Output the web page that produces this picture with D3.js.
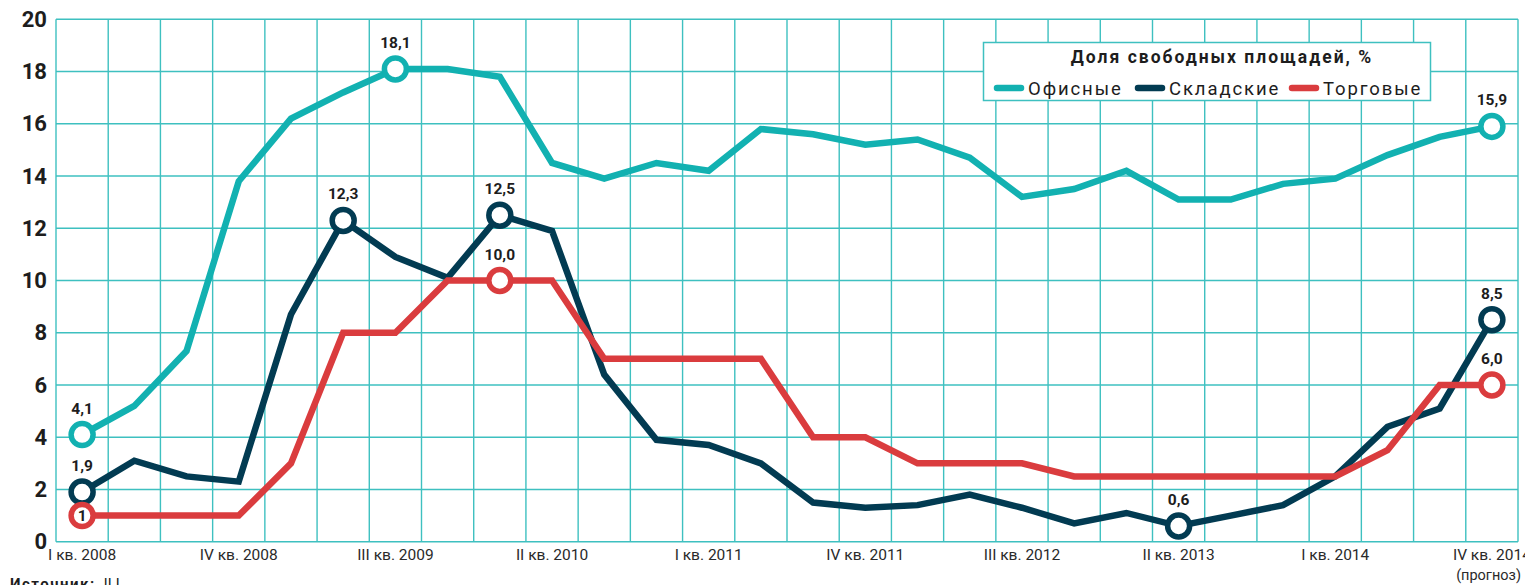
<!DOCTYPE html>
<html>
<head>
<meta charset="utf-8">
<script src="https://cdn.jsdelivr.net/npm/d3@7"></script>
<style>
  body { margin: 0; background: #fff; }
  svg { display: block; font-family: Roboto, "Open Sans", sans-serif; }
</style>
</head>
<body>
<svg id="chart" width="1525" height="585"></svg>
<script>
// quarters from I кв. 2008 to IV кв. 2014
const quarters = [];
const romans = ["I", "II", "III", "IV"];
for (let yr = 2008; yr <= 2014; yr++) {
  romans.forEach(r => quarters.push(r + " кв. " + yr));
}

const office = [4.1, 5.2, 7.3, 13.8, 16.2, 17.2, 18.1, 18.1, 17.8, 14.5, 13.9, 14.5, 14.2, 15.8,
  15.6, 15.2, 15.4, 14.7, 13.2, 13.5, 14.2, 13.1, 13.1, 13.7, 13.9, 14.8, 15.5, 15.9];
const warehouse = [1.9, 3.1, 2.5, 2.3, 8.7, 12.3, 10.9, 10.1, 12.5, 11.9, 6.4, 3.9, 3.7, 3.0,
  1.5, 1.3, 1.4, 1.8, 1.3, 0.7, 1.1, 0.6, 1.0, 1.4, 2.5, 4.4, 5.1, 8.5];
const retail = [1, 1, 1, 1, 3.0, 8, 8, 10, 10, 10, 7, 7, 7, 7,
  4, 4, 3, 3, 3, 2.5, 2.5, 2.5, 2.5, 2.5, 2.5, 3.5, 6, 6];

const yTicks = [0, 2, 4, 6, 8, 10, 12, 14, 16, 18, 20];

// highlighted points: [series, quarter index, label]
const callouts = [
  ["office", 0, "4,1"], ["office", 6, "18,1"], ["office", 27, "15,9"],
  ["warehouse", 0, "1,9"], ["warehouse", 5, "12,3"], ["warehouse", 8, "12,5"],
  ["warehouse", 21, "0,6"], ["warehouse", 27, "8,5"],
  ["retail", 8, "10,0"], ["retail", 27, "6,0"]
];

const colors = { office: "#12b1b1", warehouse: "#023b52", retail: "#da3c3e" };
const names = { office: "Офисные", warehouse: "Складские", retail: "Торговые" };
const seriesData = { office: office, warehouse: warehouse, retail: retail };
const gridColor = "#3ec0c0";

const svg = d3.select("#chart");

const x = d3.scaleBand().domain(d3.range(quarters.length)).range([56, 1518]);
const y = d3.scaleLinear().domain([0, 20]).range([541.7, 19.3]);
const cx = i => x(i) + x.bandwidth() / 2;

// grid
const grid = svg.append("g");
grid.selectAll(".vg")
  .data(d3.range(quarters.length + 1))
  .enter().append("line")
  .attr("x1", i => 56 + i * x.bandwidth())
  .attr("x2", i => 56 + i * x.bandwidth())
  .attr("y1", y(20)).attr("y2", y(0))
  .style("stroke", gridColor).style("stroke-width", 1.4);
grid.selectAll(".hg")
  .data(yTicks)
  .enter().append("line")
  .attr("x1", 56).attr("x2", 1518)
  .attr("y1", d => y(d)).attr("y2", d => y(d))
  .style("stroke", gridColor).style("stroke-width", 1.4);

// y axis
const yAxis = svg.append("g")
  .attr("transform", "translate(56,0)")
  .call(d3.axisLeft(y).tickValues(yTicks).tickSize(0).tickPadding(9));
yAxis.select(".domain").remove();
yAxis.selectAll("text")
  .style("font-size", "22px").style("font-weight", "bold")
  .style("fill", "#1d1d1d").style("font-family", "Roboto, sans-serif");

// x axis
const xAxis = svg.append("g")
  .attr("transform", "translate(0," + y(0) + ")")
  .call(d3.axisBottom(x)
    .tickValues(d3.range(0, quarters.length, 3))
    .tickFormat(i => quarters[i])
    .tickSize(0).tickPadding(7));
xAxis.select(".domain").remove();
xAxis.selectAll("text")
  .style("font-size", "15.5px").style("fill", "#2a2a2a")
  .style("font-family", "Roboto, sans-serif");

svg.append("text")
  .attr("x", 1521).attr("y", 580)
  .attr("text-anchor", "end")
  .style("font-size", "14.5px").style("fill", "#2a2a2a")
  .text("(прогноз)");

// lines
const line = d3.line().x((d, i) => cx(i)).y(d => y(d));
["office", "warehouse", "retail"].forEach(key => {
  svg.append("path")
    .datum(seriesData[key])
    .attr("d", line)
    .style("fill", "none")
    .style("stroke", colors[key])
    .style("stroke-width", 6.5)
    .style("stroke-linejoin", "miter");
});

// circles and labels
callouts.forEach(c => {
  const v = seriesData[c[0]][c[1]];
  svg.append("circle")
    .attr("cx", cx(c[1])).attr("cy", y(v)).attr("r", 11)
    .style("fill", "#fff").style("stroke", colors[c[0]]).style("stroke-width", 5.5);
  svg.append("text")
    .attr("x", cx(c[1])).attr("y", y(v) - 21)
    .attr("text-anchor", "middle")
    .style("font-size", "15.5px").style("font-weight", "bold").style("fill", "#1d1d1d")
    .text(c[2]);
});
// first retail point has its value inside the circle
svg.append("circle")
  .attr("cx", cx(0)).attr("cy", y(retail[0])).attr("r", 11)
  .style("fill", "#fff").style("stroke", colors.retail).style("stroke-width", 5.5);
svg.append("text")
  .attr("x", cx(0)).attr("y", y(retail[0]) + 5.5)
  .attr("text-anchor", "middle")
  .style("font-size", "15.5px").style("font-weight", "bold").style("fill", "#1d1d1d")
  .text("1");

// legend
const legend = svg.append("g");
legend.append("rect")
  .attr("x", 983.5).attr("y", 42.5).attr("width", 447).attr("height", 58)
  .style("fill", "#fff").style("stroke", gridColor).style("stroke-width", 1.5);
legend.append("text")
  .attr("x", 1222).attr("y", 63)
  .attr("text-anchor", "middle")
  .style("font-size", "17.5px").style("font-weight", "bold")
  .style("letter-spacing", "2px").style("fill", "#1d1d1d")
  .text("Доля свободных площадей, %");
const items = [["office", 994], ["warehouse", 1135], ["retail", 1289]];
items.forEach(it => {
  legend.append("line")
    .attr("x1", it[1] + 3).attr("x2", it[1] + 27).attr("y1", 88).attr("y2", 88)
    .style("stroke", colors[it[0]]).style("stroke-width", 6.5)
    .style("stroke-linecap", "round");
  legend.append("text")
    .attr("x", it[1] + 34).attr("y", 94.5)
    .style("font-size", "18.5px").style("letter-spacing", "1.9px").style("fill", "#1d1d1d")
    .text(names[it[0]]);
});

// source
const src = svg.append("text").attr("x", 10).attr("y", 589)
  .style("font-size", "15px").style("fill", "#1d1d1d");
src.append("tspan").style("font-weight", "bold").style("letter-spacing", "1.5px").text("Источник:");
src.append("tspan").text(" JLL");
</script>
</body>
</html>
